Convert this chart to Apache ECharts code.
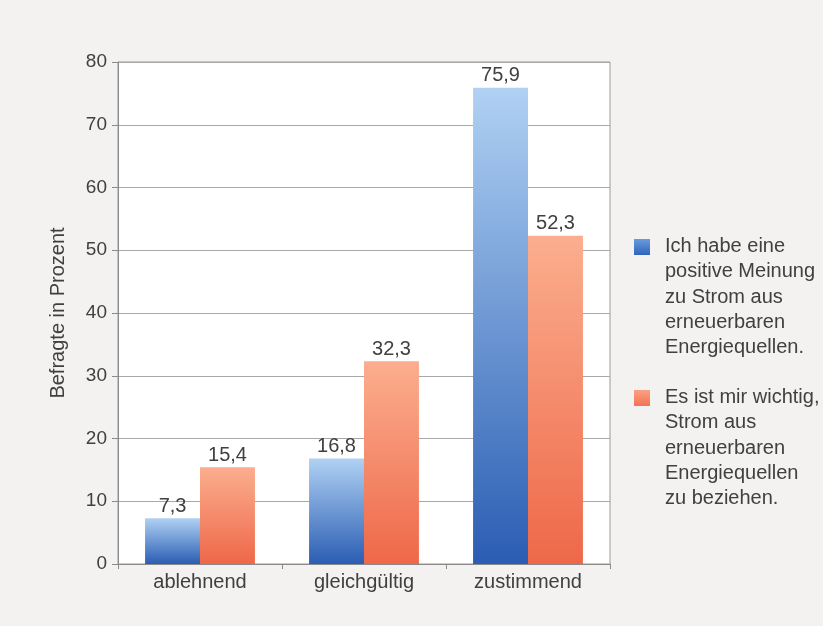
<!DOCTYPE html>
<html><head><meta charset="utf-8">
<script src="https://cdn.jsdelivr.net/npm/echarts@6/dist/echarts.min.js"></script>
<style>html,body{margin:0;padding:0;background:#f3f2f0}#c{width:823px;height:626px}</style>
</head><body><div id="c"></div>
<script>
const categories = ['ablehnend', 'gleichgültig', 'zustimmend'];
const seriesNames = [
  'Ich habe eine\npositive Meinung\nzu Strom aus\nerneuerbaren\nEnergiequellen.',
  'Es ist mir wichtig,\nStrom aus\nerneuerbaren\nEnergiequellen\nzu beziehen.'
];
const positiveOpinion = [7.3, 16.8, 75.9];
const importantToBuy = [15.4, 32.3, 52.3];
const yTicks = [0, 10, 20, 30, 40, 50, 60, 70, 80];

const FONT = 'Liberation Sans, Arial, Helvetica, sans-serif';
const TXT = '#404040';
const blueGrad = new echarts.graphic.LinearGradient(0, 0, 0, 1, [
  {offset: 0, color: '#b0d1f3'}, {offset: 1, color: '#2a5db3'}]);
const orangeGrad = new echarts.graphic.LinearGradient(0, 0, 0, 1, [
  {offset: 0, color: '#fbae8e'}, {offset: 1, color: '#ee6849'}]);
const blueIcon = new echarts.graphic.LinearGradient(0, 0, 0, 1, [
  {offset: 0, color: '#6a9be0'}, {offset: 1, color: '#2f64b8'}]);
const orangeIcon = new echarts.graphic.LinearGradient(0, 0, 0, 1, [
  {offset: 0, color: '#fba080'}, {offset: 1, color: '#f27455'}]);

const chart = echarts.init(document.getElementById('c'));
const fmt = p => String(p.value).replace('.', ',');
chart.setOption({
  backgroundColor: '#f3f2f0',
  animation: false,
  textStyle: {fontFamily: FONT},
  grid: {left: 118, right: 213, top: 62, bottom: 62, show: true, backgroundColor: '#ffffff', borderColor: '#9a9a9a', borderWidth: 1},
  xAxis: {
    type: 'category', data: categories,
    axisLine: {lineStyle: {color: '#8a8a8a'}},
    axisTick: {show: true, length: 5, lineStyle: {color: '#8a8a8a'}},
    axisLabel: {fontSize: 20, color: TXT, margin: 8, fontFamily: FONT}
  },
  yAxis: {
    type: 'value', min: yTicks[0], max: yTicks[yTicks.length - 1], interval: 10,
    name: 'Befragte in Prozent', nameLocation: 'middle', nameGap: 50,
    nameTextStyle: {fontSize: 20, color: TXT, fontFamily: FONT},
    axisLine: {show: true, lineStyle: {color: '#8a8a8a'}},
    axisTick: {show: true, length: 6, lineStyle: {color: '#8a8a8a'}},
    axisLabel: {fontSize: 19, color: TXT, margin: 11, fontFamily: FONT},
    splitLine: {lineStyle: {color: '#a8a8a8', width: 1}}
  },
  series: [
    {name: seriesNames[0], type: 'bar', data: positiveOpinion, barGap: '0%', barCategoryGap: '33%',
     itemStyle: {color: blueGrad},
     label: {show: true, position: 'top', distance: 2, fontSize: 20, color: TXT, formatter: fmt, fontFamily: FONT}},
    {name: seriesNames[1], type: 'bar', data: importantToBuy, barGap: '0%', barCategoryGap: '33%',
     itemStyle: {color: orangeGrad},
     label: {show: true, position: 'top', distance: 2, fontSize: 20, color: TXT, formatter: fmt, fontFamily: FONT}}
  ],
  graphic: [
    {type: 'rect', left: 634, top: 239, shape: {width: 16, height: 16}, style: {fill: blueIcon}},
    {type: 'text', left: 665, top: 234, style: {text: seriesNames[0], font: '20px ' + FONT, fill: TXT, lineHeight: 25.3}},
    {type: 'rect', left: 634, top: 390, shape: {width: 16, height: 16}, style: {fill: orangeIcon}},
    {type: 'text', left: 665, top: 385, style: {text: seriesNames[1], font: '20px ' + FONT, fill: TXT, lineHeight: 25.3}}
  ]
});
</script></body></html>
